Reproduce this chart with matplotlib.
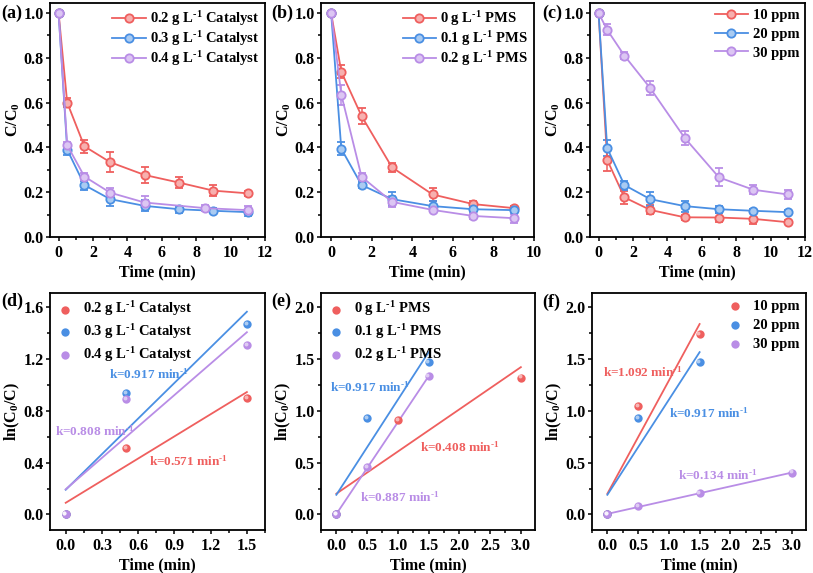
import numpy as np
import matplotlib
matplotlib.use("Agg")
import matplotlib.pyplot as plt
from matplotlib.ticker import MultipleLocator, FormatStrFormatter
from matplotlib.transforms import offset_copy

plt.rcParams['font.family'] = ['Liberation Serif', 'DejaVu Serif']
plt.rcParams['font.weight'] = 'bold'
plt.rcParams['mathtext.fontset'] = 'custom'
plt.rcParams['mathtext.rm'] = 'Liberation Serif:bold'
plt.rcParams['mathtext.bf'] = 'Liberation Serif:bold'
plt.rcParams['mathtext.it'] = 'Liberation Serif:bold'
plt.rcParams['mathtext.default'] = 'rm'

RED = '#EF5F5E'
BLUE = '#4A8FE3'
PURPLE = '#B98DE6'
LIGHT = {RED: '#F7B0AF', BLUE: '#A9CBF2', PURPLE: '#DCC6F3'}

# (a) catalyst dosage
t_a = [0, 0.5, 1.5, 3, 5, 7, 9, 11]
t_a_purple = [0, 0.5, 1.5, 3, 5, 8.5, 11]
a_red = [1.0, 0.60, 0.405, 0.334, 0.277, 0.243, 0.207, 0.195]
a_red_err = [0, 0.02, 0.03, 0.045, 0.035, 0.025, 0.025, 0.012]
a_blue = [1.0, 0.39, 0.232, 0.169, 0.139, 0.124, 0.117, 0.111]
a_blue_err = [0, 0.025, 0.02, 0.03, 0.025, 0.015, 0.012, 0.015]
a_purple = [1.0, 0.41, 0.27, 0.198, 0.154, 0.129, 0.12]
a_purple_err = [0, 0.015, 0.015, 0.02, 0.03, 0.015, 0.02]
a_labels = ['0.2 g L$^{\\text{-}1}$ Catalyst', '0.3 g L$^{\\text{-}1}$ Catalyst', '0.4 g L$^{\\text{-}1}$ Catalyst']

# (b) PMS dosage
t_b = [0, 0.5, 1.5, 3, 5, 7, 9]
b_red = [1.0, 0.738, 0.54, 0.311, 0.19, 0.147, 0.129]
b_red_err = [0, 0.03, 0.035, 0.02, 0.03, 0.015, 0.01]
b_blue = [1.0, 0.394, 0.232, 0.169, 0.138, 0.124, 0.12]
b_blue_err = [0, 0.03, 0.015, 0.03, 0.025, 0.012, 0.01]
b_purple = [1.0, 0.636, 0.269, 0.157, 0.121, 0.094, 0.084]
b_purple_err = [0, 0.045, 0.015, 0.025, 0.01, 0.015, 0.02]
b_labels = ['0 g L$^{\\text{-}1}$ PMS', '0.1 g L$^{\\text{-}1}$ PMS', '0.2 g L$^{\\text{-}1}$ PMS']

# (c) initial concentration
t_c = [0, 0.5, 1.5, 3, 5, 7, 9, 11]
c_red = [1.0, 0.344, 0.177, 0.121, 0.088, 0.087, 0.081, 0.066]
c_red_err = [0, 0.05, 0.03, 0.02, 0.01, 0.02, 0.025, 0.01]
c_blue = [1.0, 0.397, 0.232, 0.169, 0.138, 0.124, 0.117, 0.111]
c_blue_err = [0, 0.035, 0.02, 0.03, 0.025, 0.015, 0.01, 0.01]
c_purple = [1.0, 0.925, 0.81, 0.665, 0.443, 0.266, 0.211, 0.19]
c_purple_err = [0, 0.025, 0.015, 0.03, 0.03, 0.04, 0.02, 0.02]
c_labels = ['10 ppm', '20 ppm', '30 ppm']

# kinetics, ln(C0/C)
d_t = [0, 0.5, 1.5]
d_red = [0, 0.51, 0.90]
d_blue = [0, 0.935, 1.47]
d_purple = [0, 0.89, 1.31]
d_k = ['k=0.571 min$^{\\text{-}1}$', 'k=0.917 min$^{\\text{-}1}$', 'k=0.808 min$^{\\text{-}1}$']

e_t_red = [0, 1.0, 3.0]
e_red = [0, 0.907, 1.32]
e_t = [0, 0.5, 1.5]
e_blue = [0, 0.932, 1.47]
e_purple = [0, 0.453, 1.331]
e_k = ['k=0.408 min$^{\\text{-}1}$', 'k=0.917 min$^{\\text{-}1}$', 'k=0.887 min$^{\\text{-}1}$']

f_t = [0, 0.5, 1.5]
f_red = [0, 1.045, 1.736]
f_blue = [0, 0.932, 1.47]
f_t_purple = [0, 0.5, 1.5, 3.0]
f_purple = [0, 0.077, 0.206, 0.402]
f_k = ['k=1.092 min$^{\\text{-}1}$', 'k=0.917 min$^{\\text{-}1}$', 'k=0.134 min$^{\\text{-}1}$']


def style_axes(ax, xmaj, xmin, ymaj, ymin, xfmt, yfmt):
	ax.xaxis.set_major_locator(MultipleLocator(xmaj))
	ax.xaxis.set_minor_locator(MultipleLocator(xmin))
	ax.yaxis.set_major_locator(MultipleLocator(ymaj))
	ax.yaxis.set_minor_locator(MultipleLocator(ymin))
	ax.xaxis.set_major_formatter(FormatStrFormatter(xfmt))
	ax.yaxis.set_major_formatter(FormatStrFormatter(yfmt))
	ax.tick_params(which='both', direction='out', top=False, right=False, labelsize=11.5, width=1.1)
	ax.tick_params(axis='x', pad=2.5)
	ax.tick_params(axis='y', pad=1.5)
	ax.tick_params(which='major', length=3)
	ax.tick_params(which='minor', length=2)
	for lbl in ax.get_xticklabels() + ax.get_yticklabels():
		lbl.set_fontweight('bold')
	for s in ax.spines.values():
		s.set_linewidth(1.3)
	ax.set_xlabel('Time (min)', fontsize=11.5, fontweight='bold', labelpad=3)


def decay_panel(ax, series, labels, xlim, xmaj, spacing):
	handles = []
	for (t, y, err), col, lab in zip(series, [RED, BLUE, PURPLE], labels):
		cont = ax.errorbar(t, y, yerr=err, color=col, lw=1.3, marker='o', ms=6,
			mfc=LIGHT[col], mec=col, mew=1.3, capsize=3, capthick=1.1, elinewidth=1.1, label=lab)
		handles.append(cont[0])
	ax.set_xlim(*xlim)
	ax.set_ylim(0, 1.045)
	style_axes(ax, xmaj, xmaj / 2, 0.2, 0.1, '%d', '%.1f')
	ax.set_ylabel('C/C$_0$', fontsize=11.5, fontweight='bold', labelpad=1)
	ax.legend(handles, labels, loc='upper right', frameon=False, fontsize=10.5, handlelength=2.3,
		handletextpad=0.3, labelspacing=spacing, borderaxespad=0.2, borderpad=0.2)


def ball(ax, x, y, col, lab):
	ax.scatter(x, y, s=36, color=col, zorder=3, label=lab, linewidths=0)
	hl = offset_copy(ax.transData, fig=ax.figure, x=-0.9, y=0.9, units='points')
	ax.scatter(x, y, s=8, color='white', alpha=0.55, zorder=4, linewidths=0, transform=hl)


def kinetic_panel(ax, series, labels, texts, text_pos, xlim, ylim, xmaj, ymaj, xfmt,
		loc='upper left', spacing=0.25):
	for (t, y), col, lab in zip(series, [RED, BLUE, PURPLE], labels):
		ball(ax, t, y, col, lab)
	for (t, y), col in zip(series, [RED, BLUE, PURPLE]):
		k, b = np.polyfit(t, y, 1)
		xx = np.array([0, max(t)])
		ax.plot(xx, k * xx + b, color=col, lw=1.3, zorder=2)
	for txt, (tx, ty), col in zip(texts, text_pos, [RED, BLUE, PURPLE]):
		ax.text(tx, ty, txt, color=col, fontsize=9.5, fontweight='bold', va='center', ha='left')
	ax.set_xlim(*xlim)
	ax.set_ylim(*ylim)
	style_axes(ax, xmaj, xmaj / 2, ymaj, ymaj / 2, xfmt, '%.1f')
	ax.set_ylabel('ln(C$_0$/C)', fontsize=11.5, fontweight='bold', labelpad=1)
	ax.legend(loc=loc, frameon=False, fontsize=10.5, handletextpad=0.6, handlelength=1.2,
		labelspacing=spacing, borderaxespad=0.25, borderpad=0.2, scatterpoints=1)


fig = plt.figure(figsize=(8.13, 5.73), dpi=100)
W, H = 813, 573
def box(l, t, r, b):
	return [l / W, 1 - b / H, (r - l) / W, (b - t) / H]

ax_a = fig.add_axes(box(50, 3, 265, 237))
ax_b = fig.add_axes(box(321, 3, 534, 237))
ax_c = fig.add_axes(box(590, 3, 805, 237))
ax_d = fig.add_axes(box(50, 293, 265, 530))
ax_e = fig.add_axes(box(321, 293, 535, 530))
ax_f = fig.add_axes(box(592, 293, 806, 530))

decay_panel(ax_a, [(t_a, a_red, a_red_err), (t_a, a_blue, a_blue_err), (t_a_purple, a_purple, a_purple_err)],
	a_labels, (-0.5, 12), 2, 0.08)
decay_panel(ax_b, [(t_b, b_red, b_red_err), (t_b, b_blue, b_blue_err), (t_b, b_purple, b_purple_err)],
	b_labels, (-0.5, 10), 2, 0.08)
decay_panel(ax_c, [(t_c, c_red, c_red_err), (t_c, c_blue, c_blue_err), (t_c, c_purple, c_purple_err)],
	c_labels, (-0.5, 12), 2, 0.38)

kinetic_panel(ax_d, [(d_t, d_red), (d_t, d_blue), (d_t, d_purple)], a_labels, d_k,
	[(0.69, 0.41), (0.36, 1.08), (-0.09, 0.64)], (-0.13, 1.65), (-0.12, 1.71), 0.3, 0.4, '%.1f')
kinetic_panel(ax_e, [(e_t_red, e_red), (e_t, e_blue), (e_t, e_purple)], b_labels, e_k,
	[(1.36, 0.646), (-0.11, 1.23), (0.39, 0.167)], (-0.25, 3.23), (-0.15, 2.135), 0.5, 0.5, '%.1f')
kinetic_panel(ax_f, [(f_t, f_red), (f_t, f_blue), (f_t_purple, f_purple)], c_labels, f_k,
	[(-0.065, 1.367), (1.0, 0.974), (1.15, 0.373)], (-0.25, 3.23), (-0.15, 2.135), 0.5, 0.5, '%.1f',
	loc='upper right', spacing=0.4)

for lab, x, y in [('(a)', 1, 13), ('(b)', 271, 13), ('(c)', 542, 13),
	('(d)', 1, 301), ('(e)', 271, 301), ('(f)', 542, 302)]:
	fig.text(x / W, 1 - y / H, lab, fontsize=13, fontweight='bold', va='center', ha='left')

fig.savefig('out.png', dpi=100)
